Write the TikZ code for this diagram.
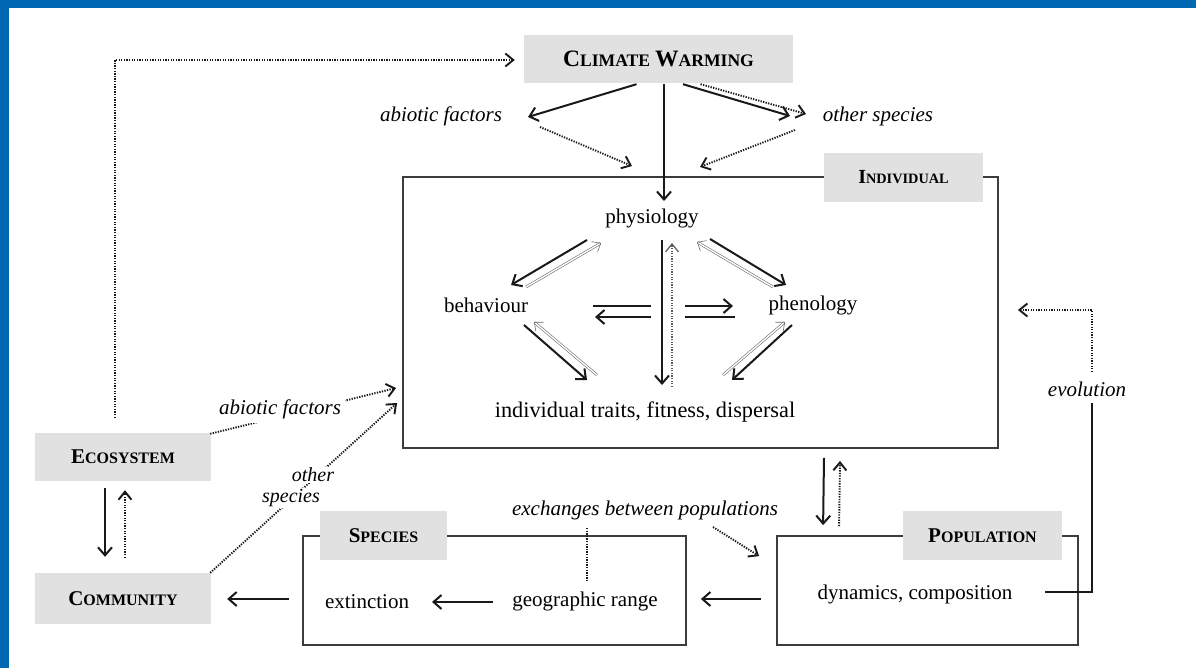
\documentclass[tikz,border=0pt]{standalone}
\usepackage{fontspec}
\setmainfont{Liberation Serif}
\usetikzlibrary{arrows.meta,calc}
\definecolor{bblue}{RGB}{0,104,178}
\definecolor{lgray}{RGB}{225,225,225}
\definecolor{ink}{RGB}{25,25,25}
\newcommand{\FSC}[4]{{\fontsize{#1}{#1}\selectfont #3\fontsize{#2}{#2}\selectfont #4}}
\tikzset{
  lbl/.style={fill=lgray, inner sep=0pt, font=\bfseries},
  frame/.style={draw=ink!85, line width=1.8pt, inner sep=0pt},
  txt/.style={inner sep=2pt, font=\fontsize{21}{24}\selectfont},
  itx/.style={inner sep=2pt, font=\fontsize{21}{24}\selectfont\itshape},
  sarr/.style={draw=ink, line width=2pt, -{Straight Barb[length=8pt,width=14pt]}},
  sline/.style={draw=ink, line width=2pt},
  darr/.style={draw=ink, line width=1.9pt, dash pattern=on 1.3pt off 1.3pt, -{Straight Barb[length=8pt,width=13pt]}},
  dline/.style={draw=ink, line width=1.9pt, dash pattern=on 1.3pt off 1.3pt},
  hol/.style={draw=gray!85!black, line width=0.6pt, double=white, double distance=1.4pt, -{Straight Barb[length=7pt,width=12pt]}},
}
\begin{document}
\begin{tikzpicture}[x=1pt,y=-1pt]
\useasboundingbox (0,0) rectangle (1196,668);
\fill[white] (0,0) rectangle (1196,668);
\fill[bblue] (0,0) rectangle (9,668);
\fill[bblue] (0,0) rectangle (1196,8);

% boxes
\node[frame, minimum width=595pt, minimum height=271pt] (indiv) at (700.5,312.5) {};
\node[frame, minimum width=383pt, minimum height=109pt] (species) at (494.5,590.5) {};
\node[frame, minimum width=301pt, minimum height=109pt] (pop) at (927.5,590.5) {};

% gray labels
\node[lbl, minimum width=269pt, minimum height=48pt] (climate) at (658.5,59)
  {\FSC{23.5}{17.6}{C}{LIMATE}\hspace{5pt}\FSC{23.5}{17.6}{W}{ARMING}};
\node[lbl, minimum width=159pt, minimum height=49pt] (indlbl) at (903.5,177.5)
  {\FSC{20}{14.3}{I}{NDIVIDUAL}};
\node[lbl, minimum width=176pt, minimum height=48pt] (eco) at (123,457)
  {\FSC{21}{16}{E}{COSYSTEM}};
\node[lbl, minimum width=176pt, minimum height=51pt] (comm) at (123,598.5)
  {\FSC{21}{16}{C}{OMMUNITY}};
\node[lbl, minimum width=127pt, minimum height=49pt] (spclbl) at (383.5,535.5)
  {\FSC{21}{16}{S}{PECIES}};
\node[lbl, minimum width=159pt, minimum height=49pt] (poplbl) at (982.5,535.5)
  {\FSC{21}{16}{P}{OPULATION}};

% texts
\node[itx] (abio1) at (441,116) {abiotic factors};
\node[itx] (oth1) at (878,116) {other species};
\node[txt] (phys) at (652,218) {physiology};
\node[txt] (behav) at (486,305) {behaviour};
\node[txt] (phen) at (813,305) {phenology};
\node[txt, font=\fontsize{22.3}{25}\selectfont] (traits) at (645,412) {individual traits, fitness, dispersal};
\node[txt] (ext) at (367,602) {extinction};
\node[txt] (geo) at (585,601) {geographic range};
\node[txt] (dyn) at (915,594) {dynamics, composition};
\node[itx] (exch) at (645,510) {exchanges between populations};
\node[itx] (evol) at (1087,389) {evolution};

% climate arrows
\draw[sarr] ($(climate.south)+(-22,1)$) -- ($(abio1.center)+(87,1)$);
\draw[sarr] ($(climate.south)+(5.5,1)$) -- ($(phys.center)+(12,-17)$);
\draw[darr] ($(climate.south)+(42,1)$) -- ($(oth1.center)+(-72,-2)$);
\draw[sarr] ($(climate.south)+(24.5,1)$) -- ($(oth1.center)+(-88,0)$);
\draw[darr] ($(abio1.center)+(99,11)$) -- ($(phys.center)+(-20,-52)$);
\draw[darr] ($(oth1.center)+(-83,14)$) -- ($(phys.center)+(48,-51)$);

% inside individual
\draw[sarr] ($(phys)+(-65,22)$) -- ($(behav)+(25,-20)$);
\draw[hol] ($(behav)+(40,-18)$) -- ($(phys)+(-51,25)$);
\draw[sarr] ($(phys)+(10,22)$) -- ($(traits)+(17,-27)$);
\draw[darr, line width=1.2pt, draw=gray!70!black] ($(traits)+(27,-25)$) -- ($(phys)+(20,25)$);
\draw[sarr] ($(phys)+(58,21)$) -- ($(phen)+(-27,-20)$);
\draw[hol] ($(phen)+(-40,-18)$) -- ($(phys)+(45,24)$);
\draw[sline] ($(behav)+(107,1)$) -- ($(behav)+(165,1)$);
\draw[sarr] ($(behav)+(165,12)$) -- ($(behav)+(109,12)$);
\draw[sarr] ($(phen)+(-128,1)$) -- ($(phen)+(-80,1)$);
\draw[sline] ($(phen)+(-128,12)$) -- ($(phen)+(-78,12)$);
\draw[sarr] ($(behav)+(38,20)$) -- ($(traits)+(-58,-32)$);
\draw[hol] ($(traits)+(-48,-37)$) -- ($(behav)+(48,17)$);
\draw[sarr] ($(phen)+(-21,20)$) -- ($(traits)+(87,-32)$);
\draw[hol] ($(traits)+(78,-37)$) -- ($(phen)+(-28,17)$);

% left side
\draw[darr] ($(eco.north)+(-8,-15)$) |- ($(climate.west)+(-9,1)$);
\draw[sarr] ($(eco.south)+(-18,7)$) -- ($(comm.north)+(-18,-16)$);
\draw[darr] ($(comm.north)+(2,-15)$) -- ($(eco.south)+(2,9)$);
\draw[darr] ($(eco.north east)+(-1,1)$) -- ($(indiv.west)+(-6,75.5)$);
\draw[darr] ($(comm.north east)+(-1,0)$) -- ($(indiv.west)+(-5,90.5)$);
\node[itx, fill=white, inner sep=4pt] (abio2) at (280,409) {abiotic factors};
\node[itx, fill=white, inner sep=1pt, font=\fontsize{20}{22}\selectfont\itshape] (oth2a) at (313,475) {other};
\node[itx, fill=white, inner sep=1pt, font=\fontsize{20}{22}\selectfont\itshape] (oth2b) at (291,498) {species};

% bottom
\draw[sarr] ($(species.west)+(-13,8.5)$) -- ($(comm.east)+(16,0.5)$);
\draw[sarr] ($(geo)+(-92,1)$) -- ($(ext)+(65,0)$);
\draw[dline] ($(exch)+(-58,18)$) -- ($(geo)+(2,-19)$);
\draw[darr] ($(exch)+(68,17)$) -- ($(pop.north west)+(-17,21)$);
\draw[sarr] ($(pop.west)+(-15,8.5)$) -- ($(species.east)+(14,8.5)$);
\draw[sarr] ($(indiv.south)+(123.5,9)$) -- ($(pop.north west)+(47,-10)$);
\draw[darr] ($(pop.north west)+(63,-9)$) -- ($(indiv.south)+(139.5,12)$);
\draw[sline] ($(dyn)+(130,-2)$) -| ($(evol)+(5,14)$);
\draw[darr] ($(evol)+(5,-17)$) |- ($(indiv.east)+(19,-2.5)$);
\end{tikzpicture}
\end{document}
